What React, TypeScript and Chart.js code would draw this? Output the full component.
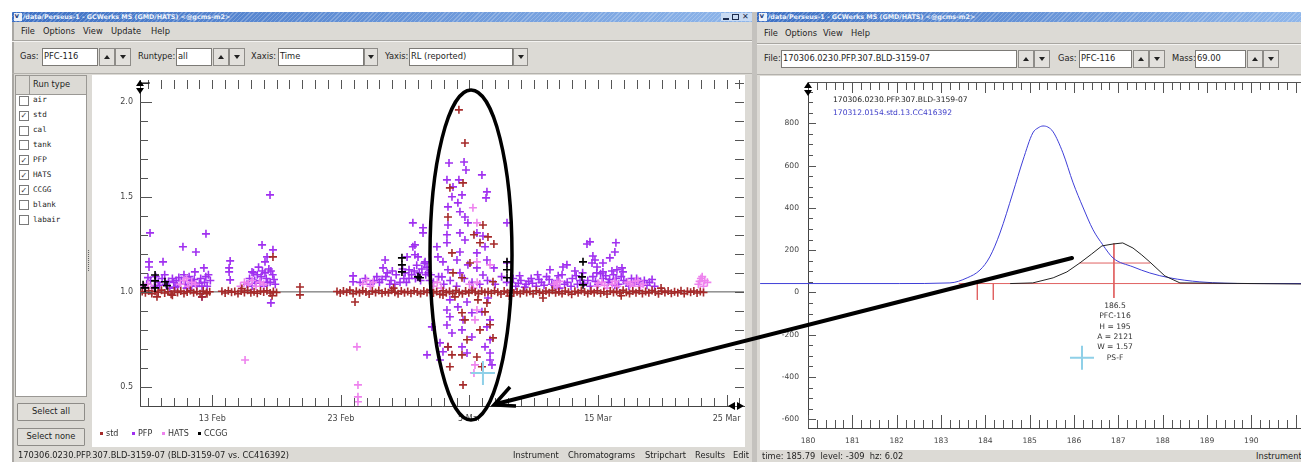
import React, { useEffect, useRef } from 'react';
import { Chart, registerables } from 'chart.js';

Chart.register(...registerables);

const FONT = '"DejaVu Sans", "Noto Sans", sans-serif';
const MONO = '"DejaVu Sans Mono", monospace';
Chart.defaults.font.family = FONT;

// ================= LEFT CHART DATA (x = day, Feb numbering: 33 = 5 Mar) =================
const xLabelDays = [13, 23, 33, 43, 53];
const xTickLabels = ['13 Feb', '23 Feb', '5 Mar', '15 Mar', '25 Mar'];
const yLabelValues = [0.5, 1.0, 1.5, 2.0];
const leftXRange = [7.38, 54.35];
const leftYRange = [0.4, 2.114];
const refLine = [[7.38, 1.0], [54.35, 1.0]];
const seriesNames = ['std', 'PFP', 'HATS', 'CCGG'];
const seriesColors = ['#a52a2a', '#a030f0', '#ee82ee', '#000000'];
const runTypes = ['air', 'std', 'cal', 'tank', 'PFP', 'HATS', 'CCGG', 'blank', 'labair'];
const runChecked = [false, true, false, false, true, true, true, false, false];

const stdFeb = [
  [7.55, 1.002], [7.8, 0.995], [8.05, 1.006], [8.3, 0.991], [8.55, 1.003], [8.8, 0.998], [9.05, 1.009], [9.3, 0.994],
  [9.55, 1.001], [9.8, 0.988], [10.05, 1.005], [10.3, 0.997], [10.55, 1.004], [10.8, 0.992], [11.05, 1.0], [11.3, 1.007],
  [11.55, 0.995], [11.8, 1.002], [12.05, 0.99], [12.3, 1.004], [12.55, 0.997], [12.8, 1.001],
  [13.75, 1.003], [14.0, 0.994], [14.25, 1.006], [14.5, 0.998], [14.75, 1.002], [15.0, 0.991], [15.25, 1.005], [15.5, 0.997],
  [15.75, 1.008], [16.0, 0.995], [16.25, 1.001], [16.5, 0.993], [16.75, 1.004], [17.0, 0.999], [17.25, 1.006], [17.5, 0.994],
  [17.75, 1.002], [18.0, 0.997], [19.82, 1.026], [19.82, 0.984],
];
const stdMar = [
  [22.7, 1.002], [22.95, 0.994], [23.2, 1.005], [23.45, 0.998], [23.7, 1.009], [23.95, 0.991], [24.2, 1.003], [24.45, 0.996],
  [24.7, 1.006], [24.95, 0.999], [25.2, 0.989], [25.45, 1.004], [25.7, 0.997], [25.95, 1.007], [26.2, 0.993], [26.45, 1.001],
  [26.7, 0.995], [26.95, 1.008], [27.2, 0.998], [27.45, 0.99], [27.7, 1.004], [27.95, 0.996], [28.2, 1.002], [28.45, 0.993],
  [28.7, 1.006], [28.95, 0.999], [29.2, 0.991], [29.45, 1.005], [29.7, 0.997], [29.95, 1.009], [30.2, 0.994], [30.45, 1.002],
  [30.7, 0.988], [30.95, 1.006], [31.2, 0.996], [31.45, 1.003], [31.7, 0.992], [31.95, 1.007], [32.2, 0.998], [32.45, 0.99],
  [32.7, 1.004], [32.95, 0.995], [33.2, 1.008], [33.45, 0.999], [33.7, 0.991], [33.95, 1.005], [34.2, 0.997], [34.45, 1.002],
  [34.7, 0.993], [34.95, 1.006], [35.2, 0.998], [35.45, 0.989], [35.7, 1.004], [35.95, 0.996], [36.2, 1.007], [36.45, 0.994],
  [36.7, 1.001], [36.95, 0.992], [37.2, 1.005], [37.45, 0.997], [37.7, 1.003], [37.95, 0.99], [38.2, 1.006], [38.45, 0.998],
  [38.7, 0.993], [38.95, 1.004], [39.2, 0.996], [39.45, 1.008], [39.7, 0.995], [39.95, 1.001], [40.2, 0.991], [40.45, 1.005],
  [40.7, 0.998], [40.95, 0.988], [41.2, 1.003], [41.45, 0.995], [41.7, 1.007], [41.95, 0.999], [42.2, 0.992], [42.45, 1.004],
  [42.7, 0.996], [42.95, 1.006], [43.2, 0.993], [43.45, 1.001], [43.7, 0.989], [43.95, 1.005], [44.2, 0.997], [44.45, 1.003],
  [44.7, 0.994], [44.95, 1.008], [45.2, 0.998], [45.45, 0.991], [45.7, 1.004], [45.95, 0.996], [46.2, 1.006], [46.45, 0.992],
  [46.7, 1.002], [46.95, 0.995], [47.2, 1.007], [47.45, 0.999], [47.7, 0.99], [47.95, 1.004], [48.2, 0.997], [48.45, 1.005],
  [48.7, 0.993], [48.95, 1.001], [49.2, 0.996], [49.45, 1.006], [49.7, 0.991], [49.95, 1.003], [50.2, 0.998], [50.45, 1.005],
  [50.7, 0.994], [50.95, 1.002], [51.2, 0.997],
];
const stdOutliers = [
  [8.7, 0.974], [12.2, 0.974], [12.59, 0.99], [17.72, 1.184], [17.65, 0.98], [24.1, 0.947], [38.72, 0.968],
  [32.18, 1.957], [32.65, 1.783], [31.48, 1.547], [32.5, 1.573], [31.33, 1.394], [33.35, 1.3], [34.05, 1.352],
  [34.44, 1.289], [34.9, 1.252], [33.82, 1.258], [31.64, 1.205], [31.72, 1.1], [33.04, 1.152], [32.42, 1.074],
  [34.83, 1.053], [30.94, 0.984], [31.87, 0.974], [33.66, 0.958], [34.36, 0.942], [34.21, 0.895], [32.42, 0.89],
  [32.65, 0.853], [34.6, 0.827], [32.81, 0.748], [34.83, 0.758], [33.82, 0.8], [31.33, 0.711], [32.42, 0.669],
  [31.64, 0.669], [31.48, 0.606], [33.97, 0.606], [32.5, 0.511], [33.58, 0.658],
  [9.9, 0.982], [15.3, 1.018], [27.1, 1.02], [36.1, 0.978], [44.8, 0.98], [47.9, 1.02],
];

const pfpFeb = [
  [8.16, 1.31], [8.08, 1.158], [8.08, 1.131], [9.17, 1.158], [10.72, 1.237], [11.73, 1.21], [12.51, 1.305], [11.65, 1.105],
  [12.35, 1.126], [12.2, 0.974],
  [7.9, 1.04], [8.2, 1.06], [8.5, 1.03], [8.8, 1.05], [9.1, 1.07], [9.4, 1.04], [9.7, 1.02], [10.0, 1.05], [10.3, 1.03],
  [10.6, 1.06], [10.9, 1.04], [11.2, 1.08], [11.5, 1.05], [11.8, 1.03], [12.1, 1.07], [12.4, 1.05], [12.7, 1.09],
  [12.6, 1.03], [11.0, 1.02], [9.9, 1.07], [8.6, 1.08], [9.6, 1.055], [10.4, 1.075], [11.4, 1.03], [12.0, 1.045],
  [12.85, 1.06], [10.1, 1.025], [11.6, 1.065],
  [8.0, 1.075], [8.9, 1.035], [9.3, 1.09], [10.2, 1.06], [10.8, 1.09], [11.3, 1.06], [12.2, 1.03], [12.5, 1.08],
  [14.39, 1.163], [14.31, 1.126], [14.31, 1.105], [14.39, 1.063], [16.09, 1.105], [16.87, 1.247], [17.72, 1.221],
  [17.26, 1.184], [17.1, 1.158], [17.56, 1.11], [17.56, 0.942], [17.49, 1.51],
  [15.7, 1.04], [15.9, 1.07], [16.1, 1.03], [16.3, 1.06], [16.5, 1.09], [16.7, 1.05], [16.9, 1.11], [17.0, 1.03],
  [17.2, 1.07], [17.4, 1.12], [17.5, 1.05], [17.7, 1.09], [17.9, 1.04], [16.6, 1.13], [16.2, 1.1], [16.8, 1.08],
  [17.1, 1.1], [17.3, 1.05], [17.8, 1.065], [16.4, 1.045],
];
const pfpMar = [
  [23.95, 1.084], [23.95, 1.053], [26.28, 1.126], [26.44, 1.168], [28.6, 1.363], [28.6, 1.237], [28.76, 1.195],
  [25.3, 1.04], [25.6, 1.06], [26.0, 1.05], [26.5, 1.08], [26.9, 1.06], [27.3, 1.09], [27.6, 1.05], [28.0, 1.1],
  [28.3, 1.07], [28.7, 1.11], [29.0, 1.08], [29.3, 1.12], [29.6, 1.09], [29.9, 1.06], [27.0, 1.11], [28.9, 1.14], [29.5, 1.15],
  [28.15, 1.184], [29.0, 1.184], [29.55, 1.158], [28.3, 1.116], [29.39, 1.337], [29.39, 1.31], [28.76, 1.247],
  [26.2, 1.065], [27.9, 1.07], [28.5, 1.09], [29.2, 1.06], [29.8, 1.1], [26.8, 1.04],
  [24.5, 1.05], [24.9, 1.07], [25.8, 1.08], [26.6, 1.1], [27.2, 1.04], [27.8, 1.12], [28.1, 1.05], [28.8, 1.07],
  [29.1, 1.1], [29.7, 1.13], [30.0, 1.09],
  [31.41, 1.678], [32.58, 1.683], [32.73, 1.641], [33.97, 1.615], [31.25, 1.589], [32.18, 1.589], [31.72, 1.552],
  [34.36, 1.526], [31.64, 1.5], [32.42, 1.51], [34.29, 1.494], [32.1, 1.468], [31.33, 1.447], [32.26, 1.421],
  [32.65, 1.394], [31.33, 1.352], [35.92, 1.363], [32.88, 1.363], [32.26, 1.31], [33.58, 1.31], [31.25, 1.3],
  [34.05, 1.294], [30.47, 1.237], [31.25, 1.258], [32.65, 1.273], [34.21, 1.237], [32.26, 1.21], [33.58, 1.205],
  [30.55, 1.184], [32.03, 1.168], [34.36, 1.168], [30.94, 1.158], [32.88, 1.142], [33.58, 1.126], [31.33, 1.116],
  [32.26, 1.1], [34.05, 1.089], [30.86, 1.079], [35.92, 1.152], [34.9, 1.126],
  [31.48, 0.958], [32.81, 0.947], [34.44, 0.968], [31.25, 0.905], [32.1, 0.921], [33.19, 0.89], [33.97, 0.895],
  [31.48, 0.869], [32.5, 0.853], [34.6, 0.853], [30.08, 0.816], [31.25, 0.826], [31.64, 0.784], [32.42, 0.8],
  [33.19, 0.763], [34.36, 0.816], [34.6, 0.748], [30.71, 0.732], [31.33, 0.711], [32.42, 0.711], [34.21, 0.711],
  [30.94, 0.685], [32.81, 0.679], [34.6, 0.679], [29.7, 0.669], [30.71, 0.642], [34.6, 0.642], [34.75, 0.616],
  [30.2, 1.05], [30.6, 1.08], [31.0, 1.04], [31.5, 1.06], [32.0, 1.03], [32.6, 1.07], [33.2, 1.05], [33.8, 1.04],
  [34.4, 1.06], [35.0, 1.04], [35.5, 1.08], [35.9, 1.05],
  [42.14, 1.252], [42.37, 1.263], [44.39, 1.258], [44.31, 1.21], [42.6, 1.189], [43.92, 1.179], [42.53, 1.152],
  [43.38, 1.152], [40.58, 1.142], [42.92, 1.131], [44.86, 1.126], [43.38, 1.105], [44.08, 1.11], [44.47, 1.116],
  [44.94, 1.105], [42.76, 1.168], [39.26, 1.116], [40.27, 1.131],
  [36.2, 1.05], [36.6, 1.03], [37.0, 1.06], [37.4, 1.04], [37.8, 1.07], [38.2, 1.03], [38.6, 1.05], [39.0, 1.08],
  [39.4, 1.04], [39.8, 1.06], [40.2, 1.09], [40.6, 1.05], [41.0, 1.07], [41.4, 1.04], [41.8, 1.1], [42.2, 1.06],
  [42.6, 1.08], [43.0, 1.04], [43.4, 1.07], [43.8, 1.05], [44.2, 1.09], [44.6, 1.04], [45.0, 1.06], [45.4, 1.03],
  [45.8, 1.05], [46.2, 1.04], [46.6, 1.06], [47.0, 1.05], [47.4, 1.03], [41.2, 1.11], [42.9, 1.1], [40.0, 1.02],
  [36.8, 1.045], [37.6, 1.055], [38.4, 1.065], [39.6, 1.035], [41.6, 1.06], [43.6, 1.085], [44.4, 1.07], [46.0, 1.07],
  [36.4, 1.07], [36.9, 1.085], [37.3, 1.025], [37.9, 1.045], [38.3, 1.09], [38.8, 1.035], [39.2, 1.065], [39.9, 1.085],
  [40.4, 1.04], [40.9, 1.03], [41.3, 1.085], [41.9, 1.045], [42.4, 1.03], [42.8, 1.055], [43.2, 1.095], [43.9, 1.065],
  [44.3, 1.035], [44.8, 1.08], [45.2, 1.05], [45.6, 1.07], [46.3, 1.055], [46.8, 1.035], [47.2, 1.065],
];
const hatsPts = [
  [7.7, 1.03], [8.0, 1.04], [8.3, 1.02], [10.5, 1.04], [10.8, 1.06], [11.1, 1.03], [11.4, 1.05], [11.7, 1.04], [11.0, 1.07],
  [15.2, 1.03], [15.5, 1.05], [15.8, 1.04], [16.1, 1.06], [16.4, 1.03], [16.7, 1.05], [17.0, 1.04], [15.55, 0.642],
  [24.7, 1.04], [25.0, 1.06], [25.3, 1.03], [25.5, 1.05], [24.25, 0.711], [24.33, 0.511], [24.33, 0.448], [24.33, 0.422],
  [30.2, 1.03], [30.5, 1.05], [30.8, 1.02], [33.0, 1.04], [33.3, 1.02], [33.6, 1.05],
  [33.27, 1.442], [33.58, 1.363], [33.58, 1.158], [34.6, 1.142], [33.43, 0.853], [33.58, 0.905], [33.43, 0.616], [33.35, 0.574],
  [39.8, 1.03], [39.8, 1.05], [42.9, 1.03], [43.3, 1.05], [43.7, 1.02], [44.1, 1.04], [44.5, 1.03],
  [45.3, 1.05], [45.7, 1.03], [46.1, 1.06], [46.5, 1.04], [50.8, 1.04], [51.0, 1.07], [51.2, 1.03], [51.5, 1.05], [51.1, 1.08],
  [43.0, 1.045], [43.5, 1.035], [44.3, 1.055], [45.5, 1.04], [45.9, 1.055], [46.3, 1.03], [39.6, 1.04], [40.0, 1.055],
  [51.3, 1.06], [50.9, 1.055],
];
const ccggPts = [
  [7.62, 1.037], [7.77, 1.021], [8.55, 1.089], [8.55, 1.058], [8.55, 1.021], [9.32, 1.053], [9.48, 1.032],
  [27.75, 1.179], [27.75, 1.142], [27.75, 1.105], [29.0, 1.079], [29.15, 1.074],
  [35.92, 1.158], [35.92, 1.116], [35.92, 1.074], [41.83, 1.158], [41.75, 1.079], [41.83, 1.037],
];
const cursorLeft = [[34.05, 0.574]];

// ================= RIGHT CHART DATA (x = retention time, y = level) =================
const rightXRange = [180, 191.12];
const rightYRange = [-641, 995];
const rightXLabels = [180, 181, 182, 183, 184, 185, 186, 187, 188, 189, 190];
const rightYLabels = [-600, -400, -200, 0, 200, 400, 600, 800];
const blueTrace = [
  [178.92, 42], [182.07, 42], [183.2, 45], [183.59, 69], [183.88, 106], [184.1, 168], [184.33, 281], [184.62, 470],
  [184.85, 626], [185.07, 754], [185.19, 778], [185.3, 787], [185.41, 782], [185.53, 759], [185.75, 660], [185.98, 518],
  [186.2, 404], [186.43, 296], [186.65, 225], [186.88, 163], [187.33, 121], [187.71, 92], [188.16, 69], [188.84, 50],
  [189.97, 42], [191.12, 42],
];
const blackTrace = [
  [184.56, 42], [185.07, 45], [185.53, 69], [185.84, 97], [186.13, 139], [186.4, 182], [186.63, 220], [186.88, 229],
  [187.1, 234], [187.33, 210], [187.53, 177], [187.71, 144], [188.05, 78], [188.39, 45], [191.12, 40],
];
const redBaseline = [[183.4, 42], [191.12, 42]];
const redStart1 = [[183.82, 42], [183.82, -35]];
const redStart2 = [[184.18, 42], [184.18, -35]];
const redPeak = [[186.9, 232], [186.9, -26]];
const redHalf = [[186.12, 139], [187.72, 139]];
const cursorRight = [[186.18, -309]];
const peakLabels = ['186.5', 'PFC-116', 'H = 195', 'A = 2121', 'W = 1.57', 'PS-F'];
const traceNames = ['170306.0230.PFP.307.BLD-3159-07', '170312.0154.std.13.CC416392'];

const toXY = (a: number[][]) => a.map(([x, y]) => ({ x, y }));

function tickPlugin(specs: any[], edges: string[] = []) {
  return {
    id: 'innerTicks',
    afterDraw(chart: any) {
      const { ctx, chartArea: a } = chart;
      ctx.save();
      ctx.lineWidth = 1;
      ctx.strokeStyle = '#555';
      for (const e of edges) {
        ctx.beginPath();
        if (e === 'top') { ctx.moveTo(a.left, a.top + 0.5); ctx.lineTo(a.right, a.top + 0.5); }
        if (e === 'right') { ctx.moveTo(a.right - 0.5, a.top); ctx.lineTo(a.right - 0.5, a.bottom); }
        ctx.stroke();
      }
      for (const sp of specs) {
        const sc = chart.scales[sp.scale];
        for (const t of sc.ticks) {
          const p = Math.round(sc.getPixelForValue(t.value)) + 0.5;
          const L = sp.isMajor(t.value) ? sp.major : sp.minor;
          ctx.beginPath();
          for (const side of sp.sides) {
            if (side === 'bottom') { ctx.moveTo(p, a.bottom); ctx.lineTo(p, a.bottom - L); }
            if (side === 'top') { ctx.moveTo(p, a.top); ctx.lineTo(p, a.top + L); }
            if (side === 'left') { ctx.moveTo(a.left, p); ctx.lineTo(a.left + L, p); }
            if (side === 'right') { ctx.moveTo(a.right, p); ctx.lineTo(a.right - L, p); }
          }
          ctx.stroke();
        }
      }
      ctx.restore();
    },
  };
}

const near = (a: number, b: number) => Math.abs(a - b) < 1e-6;
const fixW = (w: number) => (s: any) => { s.width = w; s.paddingTop = 0; s.paddingBottom = 0; s.paddingLeft = 0; s.paddingRight = 0; };
const fixH = (h: number) => (s: any) => { s.height = h; s.paddingTop = 0; s.paddingBottom = 0; s.paddingLeft = 0; s.paddingRight = 0; };

function LeftChart() {
  const ref = useRef<HTMLCanvasElement>(null);
  useEffect(() => {
    const pts = (label: string, data: number[][], color: string, order: number, r = 4, w = 1.6) => ({
      label, data: toXY(data), showLine: false, pointStyle: 'cross', pointRadius: r, pointBorderWidth: w,
      pointBorderColor: color, borderColor: color, backgroundColor: color, order,
    });
    const chart = new Chart(ref.current as HTMLCanvasElement, {
      type: 'scatter',
      data: {
        datasets: [
          pts('cursor', cursorLeft, '#8fd0e8', -1, 12, 2),
          pts(seriesNames[3], ccggPts, seriesColors[3], 0),
          pts(seriesNames[0], [...stdFeb, ...stdMar, ...stdOutliers], seriesColors[0], 1),
          pts(seriesNames[2], hatsPts, seriesColors[2], 2),
          pts(seriesNames[1], [...pfpFeb, ...pfpMar], seriesColors[1], 3),
          { type: 'line', label: 'ref', data: toXY(refLine), borderColor: '#555', borderWidth: 1, pointRadius: 0, order: 10 } as any,
        ],
      },
      options: {
        animation: false, responsive: false, events: [],
        layout: { autoPadding: false, padding: { top: 5, right: 1, left: 0, bottom: 0 } },
        plugins: { legend: { display: false }, tooltip: { enabled: false } },
        scales: {
          x: {
            type: 'linear', min: leftXRange[0], max: leftXRange[1],
            grid: { display: false, drawTicks: false }, border: { display: true, color: '#444', width: 1 },
            afterFit: fixH(41),
            ticks: {
              stepSize: 1, autoSkip: false, maxRotation: 0, includeBounds: false, padding: 8, color: '#444', font: { size: 8 },
              callback: (v: any) => { const i = xLabelDays.findIndex((d) => near(d, v)); return i >= 0 ? xTickLabels[i] : ''; },
            },
          },
          y: {
            type: 'linear', min: leftYRange[0], max: leftYRange[1],
            grid: { display: false, drawTicks: false }, border: { display: true, color: '#444', width: 1 },
            afterFit: fixW(48),
            ticks: {
              stepSize: 0.1, autoSkip: false, includeBounds: false, padding: 7, color: '#444', font: { size: 8 },
              callback: (v: any) => { const f = yLabelValues.find((d) => near(d, v)); return f !== undefined ? f.toFixed(1) : ''; },
            },
          },
        },
      } as any,
      plugins: [tickPlugin([
        { scale: 'x', sides: ['bottom'], minor: 8, major: 11, isMajor: (v: number) => xLabelDays.some((d) => near(d, v)) },
        { scale: 'x', sides: ['top'], minor: 9, major: 9, isMajor: () => false },
        { scale: 'y', sides: ['left'], minor: 8, major: 12, isMajor: (v: number) => yLabelValues.some((d) => near(d, v)) },
        { scale: 'y', sides: ['right'], minor: 9, major: 9, isMajor: () => false },
      ])],
    });
    return () => chart.destroy();
  }, []);
  return <canvas ref={ref} width={653} height={372} style={{ position: 'absolute', left: 92, top: 75, width: 653, height: 372 }} />;
}

function RightChart() {
  const ref = useRef<HTMLCanvasElement>(null);
  useEffect(() => {
    const line = (data: number[][], color: string, order: number, extra: any = {}) => ({
      type: 'line', data: toXY(data), borderColor: color, borderWidth: 1, pointRadius: 0, order, tension: 0, ...extra,
    });
    const chart = new Chart(ref.current as HTMLCanvasElement, {
      type: 'line',
      data: {
        datasets: [
          line(redBaseline, '#e06262', 5),
          line(redStart1, '#e06262', 5),
          line(redStart2, '#e06262', 5),
          line(redPeak, '#e06262', 5),
          line(redHalf, '#e06262', 5),
          line(blueTrace, '#3f3fd8', 3, { cubicInterpolationMode: 'monotone', clip: { left: 48, top: 0, right: 0, bottom: 0 } }),
          line(blackTrace, '#222222', 2),
          { type: 'scatter', data: toXY(cursorRight), showLine: false, pointStyle: 'cross', pointRadius: 12, pointBorderWidth: 2, pointBorderColor: '#8fd0e8', borderColor: '#8fd0e8', order: 0 },
        ] as any,
      },
      options: {
        animation: false, responsive: false, events: [],
        layout: { autoPadding: false, padding: { top: 6, right: 0, left: 0, bottom: 0 } },
        plugins: { legend: { display: false }, tooltip: { enabled: false } },
        scales: {
          x: {
            type: 'linear', min: rightXRange[0], max: rightXRange[1],
            grid: { display: false, drawTicks: false }, border: { display: true, color: '#444', width: 1 },
            afterFit: fixH(22),
            ticks: {
              stepSize: 0.2, autoSkip: false, maxRotation: 0, includeBounds: false, padding: 8, color: '#444', font: { size: 7.6 },
              callback: (v: any) => { const f = rightXLabels.find((d) => near(d, v)); return f !== undefined ? String(f) : ''; },
            },
          },
          y: {
            type: 'linear', min: rightYRange[0], max: rightYRange[1],
            grid: { display: false, drawTicks: false }, border: { display: true, color: '#444', width: 1 },
            afterFit: fixW(48),
            ticks: {
              stepSize: 50, autoSkip: false, includeBounds: false, padding: 9, color: '#444', font: { size: 7.6 },
              callback: (v: any) => { const f = rightYLabels.find((d) => near(d, v)); return f !== undefined ? String(f) : ''; },
            },
          },
        },
      } as any,
      plugins: [tickPlugin([
        { scale: 'x', sides: ['bottom'], minor: 8, major: 13, isMajor: (v: number) => near(v, Math.round(v)) },
        { scale: 'x', sides: ['top'], minor: 8, major: 11, isMajor: (v: number) => near(v, Math.round(v)) },
        { scale: 'y', sides: ['left'], minor: 5, major: 8, isMajor: (v: number) => rightYLabels.some((d) => near(d, v)) },
      ], ['top'])],
    });
    return () => chart.destroy();
  }, []);
  return <canvas ref={ref} width={541} height={374} style={{ position: 'absolute', left: 760, top: 76, width: 541, height: 374 }} />;
}

// ================= GUI helpers =================
const R = ({ x, y, w, h, bg, style }: any) => (
  <div style={{ position: 'absolute', left: x, top: y, width: w, height: h, background: bg, boxSizing: 'border-box', ...style }} />
);
const Txt = ({ x, y, s = 8.3, c = '#1e1e1e', align = 'left', bold = false, mono = false, children }: any) => (
  <div style={{
    position: 'absolute', left: x, top: y - s * 0.7, height: s * 1.4, lineHeight: `${s * 1.4}px`, fontSize: s, color: c,
    fontWeight: bold ? 'bold' : 'normal', fontFamily: mono ? MONO : FONT, whiteSpace: 'pre',
    transform: align === 'center' ? 'translateX(-50%)' : align === 'right' ? 'translateX(-100%)' : undefined,
  }}>{children}</div>
);
const Tri = ({ cx, cy, up }: any) => (
  <div style={{
    position: 'absolute', left: cx - 3, top: cy - 2, width: 0, height: 0,
    borderLeft: '3px solid transparent', borderRight: '3px solid transparent',
    ...(up ? { borderBottom: '4px solid #222' } : { borderTop: '4px solid #222' }),
  }} />
);
const Btn = ({ x, y, w, h, up }: any) => (
  <>
    <R x={x} y={y} w={w} h={h} bg="#e2e0dc" style={{ border: '1px solid #8e8c88' }} />
    <Tri cx={x + w / 2} cy={y + h / 2} up={up} />
  </>
);
const Input = ({ x, y, w, h, text }: any) => (
  <>
    <R x={x} y={y} w={w} h={h} bg="#fff" style={{ border: '1px solid #7c7a76' }} />
    <Txt x={x + 2} y={y + h / 2}>{text}</Txt>
  </>
);
const TitleBar = ({ x, w, title }: any) => (
  <>
    <R x={x} y={12} w={w} h={10} bg="repeating-linear-gradient(135deg, rgba(255,255,255,0.22) 0 1px, rgba(255,255,255,0) 1px 3px), linear-gradient(90deg, #3d70c4, #8fb6ea)" />
    <R x={x + 2} y={13} w={8} h={8} bg="#eef2f9" />
    <Txt x={x + 2.5} y={17} s={7} bold c="#1f3f7c">v</Txt>
    <Txt x={x + 11} y={17} s={6.4} bold c="#eef3fb">{title}</Txt>
  </>
);
const CheckBox = ({ x, y, on }: any) => (
  <>
    <R x={x} y={y - 5} w={10} h={10} bg="#fff" style={{ border: '1px solid #7a7a7a' }} />
    {on ? <Txt x={x + 1.5} y={y} s={8} c="#333">✓</Txt> : null}
  </>
);

const TITLE = '/data/Perseus-1 - GCWerks MS (GMD/HATS) <@gcms-m2>';

export default function App() {
  return (
    <div style={{ position: 'fixed', left: 0, top: 0, width: 1301, height: 462, background: '#fff', overflow: 'hidden', fontFamily: FONT }}>
      {/* ===== LEFT WINDOW ===== */}
      <R x={12} y={22} w={740} h={440} bg="#dcdad5" />
      <R x={12} y={22} w={2} h={440} bg="#a9a7a3" />
      <TitleBar x={12} w={740} title={TITLE} />
      <R x={721} y={13} w={31} h={8} bg="#c9dbf3" />
      <R x={723} y={18} w={6} h={2} bg="#1d2d50" />
      <R x={732} y={14} w={7} h={6} bg="transparent" style={{ border: '1px solid #1d2d50' }} />
      <Txt x={742} y={17} s={8} bold c="#1d2d50">✕</Txt>
      <Txt x={21} y={32}>File</Txt>
      <Txt x={43} y={32}>Options</Txt>
      <Txt x={83} y={32}>View</Txt>
      <Txt x={111} y={32}>Update</Txt>
      <Txt x={151} y={32}>Help</Txt>
      <R x={12} y={40} w={740} h={1} bg="#a8a6a1" />
      <R x={12} y={41} w={740} h={1} bg="#f4f3f1" />
      <Txt x={20} y={57}>Gas:</Txt>
      <Input x={42} y={48} w={56} h={18} text="PFC-116" />
      <Btn x={99} y={48} w={16} h={18} up />
      <Btn x={115} y={48} w={16} h={18} />
      <Txt x={138} y={57}>Runtype:</Txt>
      <Input x={176} y={48} w={36} h={18} text="all" />
      <Btn x={213} y={48} w={16} h={18} up />
      <Btn x={229} y={48} w={16} h={18} />
      <Txt x={251} y={57}>Xaxis:</Txt>
      <Input x={278} y={48} w={86} h={18} text="Time" />
      <Btn x={364} y={48} w={14} h={18} />
      <Txt x={385} y={57}>Yaxis:</Txt>
      <Input x={409} y={48} w={104} h={18} text="RL (reported)" />
      <Btn x={513} y={48} w={15} h={18} />
      <R x={12} y={73} w={740} h={1} bg="#b3b1ac" />

      {/* run type panel */}
      <R x={15} y={75} w={72} h={322} bg="#fff" style={{ border: '1px solid #9a9894' }} />
      <R x={15} y={75} w={15} h={20} bg="#dcdad5" style={{ border: '1px solid #9a9894' }} />
      <R x={29} y={75} w={58} h={20} bg="#dcdad5" style={{ border: '1px solid #9a9894' }} />
      <Txt x={33} y={85}>Run type</Txt>
      {runTypes.map((t, i) => (
        <React.Fragment key={t}>
          <CheckBox x={19} y={100.7 + i * 14.9} on={runChecked[i]} />
          <Txt x={33} y={100.7 + i * 14.9} s={7.6} mono c="#222">{t}</Txt>
        </React.Fragment>
      ))}
      <R x={17} y={403} w={68} h={18} bg="#e0ded9" style={{ border: '1px solid #8e8c88', borderRadius: 1 }} />
      <Txt x={51} y={412} align="center">Select all</Txt>
      <R x={17} y={428} w={68} h={18} bg="#e0ded9" style={{ border: '1px solid #8e8c88', borderRadius: 1 }} />
      <Txt x={51} y={437} align="center">Select none</Txt>
      <R x={88} y={250} w={1} h={22} bg="repeating-linear-gradient(#666 0 1px, transparent 1px 2px)" />

      {/* chart area */}
      <R x={92} y={75} w={653} h={372} bg="#fff" />
      <LeftChart />
      {seriesNames.map((n, i) => {
        const xs = [100, 132, 162, 198];
        return (
          <React.Fragment key={n}>
            <R x={xs[i]} y={432} w={3} h={3} bg={seriesColors[i]} />
            <Txt x={xs[i] + 6} y={433.5} s={8} c="#333">{n}</Txt>
          </React.Fragment>
        );
      })}
      <Txt x={18} y={456}>170306.0230.PFP.307.BLD-3159-07 (BLD-3159-07 vs. CC416392)</Txt>
      <Txt x={513} y={456}>Instrument</Txt>
      <Txt x={568} y={456}>Chromatograms</Txt>
      <Txt x={645} y={456}>Stripchart</Txt>
      <Txt x={695} y={456}>Results</Txt>
      <Txt x={733} y={456}>Edit</Txt>

      {/* gap between windows */}
      <R x={752} y={12} w={5} h={450} bg="#c4c2be" />

      {/* ===== RIGHT WINDOW ===== */}
      <R x={757} y={22} w={544} h={440} bg="#dcdad5" />
      <TitleBar x={757} w={544} title={TITLE} />
      <Txt x={764} y={34}>File</Txt>
      <Txt x={785} y={34}>Options</Txt>
      <Txt x={823} y={34}>View</Txt>
      <Txt x={851} y={34}>Help</Txt>
      <R x={757} y={43} w={544} h={1} bg="#a8a6a1" />
      <R x={757} y={44} w={544} h={1} bg="#f4f3f1" />
      <Txt x={764} y={59}>File:</Txt>
      <Input x={781} y={50} w={236} h={18} text="170306.0230.PFP.307.BLD-3159-07" />
      <Btn x={1018} y={50} w={16} h={18} up />
      <Btn x={1034} y={50} w={16} h={18} />
      <Txt x={1058} y={59}>Gas:</Txt>
      <Input x={1079} y={50} w={53} h={18} text="PFC-116" />
      <Btn x={1133} y={50} w={16} h={18} up />
      <Btn x={1149} y={50} w={16} h={18} />
      <Txt x={1172} y={59}>Mass:</Txt>
      <Input x={1195} y={50} w={51} h={18} text="69.00" />
      <Btn x={1247} y={50} w={16} h={18} up />
      <Btn x={1263} y={50} w={16} h={18} />
      <R x={757} y={74} w={544} h={1} bg="#b3b1ac" />
      <R x={760} y={76} w={541} h={374} bg="#fff" />
      <RightChart />
      <Txt x={833} y={100} s={7.6} c="#222">{traceNames[0]}</Txt>
      <Txt x={833} y={113} s={7.6} c="#3c3cc8">{traceNames[1]}</Txt>
      {peakLabels.map((t, i) => (
        <Txt key={t} x={1115} y={306 + i * 10.45} s={7.6} c="#333" align="center">{t}</Txt>
      ))}
      <Txt x={762} y={457}>time: 185.79  level: -309  hz: 6.02</Txt>
      <Txt x={1256} y={457}>Instrument</Txt>

      {/* annotation overlay */}
      <svg width={1301} height={462} style={{ position: 'absolute', left: 0, top: 0, pointerEvents: 'none' }}>
        <polygon points="136,86 144,86 140,80" fill="#000" />
        <polygon points="136,88 144,88 140,94" fill="#000" />
        <line x1={140} y1={83} x2={150} y2={83} stroke="#000" strokeWidth={1} />
        <polygon points="735,402 735,410 728,406" fill="#000" />
        <polygon points="737,402 737,410 744,406" fill="#000" />
        <polygon points="804,88 812,88 808,82" fill="#000" />
        <polygon points="804,90 812,90 808,96" fill="#000" />
        <ellipse cx={471} cy={255} rx={41} ry={165} fill="none" stroke="#000" strokeWidth={3.5} />
        <line x1={1072} y1={258} x2={496} y2={404} stroke="#000" strokeWidth={4} strokeLinecap="round" />
        <polyline points="510,387 494,405 516,406" fill="none" stroke="#000" strokeWidth={3.5} strokeLinejoin="miter" />
      </svg>
    </div>
  );
}
